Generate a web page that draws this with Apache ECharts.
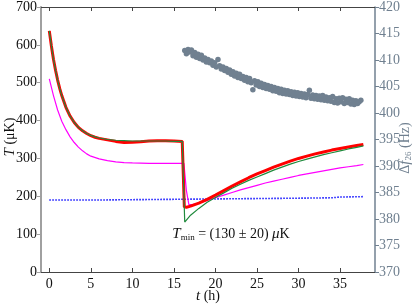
<!DOCTYPE html>
<html><head><meta charset="utf-8">
<script src="https://cdn.jsdelivr.net/npm/echarts@6/dist/echarts.min.js"></script>
<style>html,body{margin:0;padding:0;background:#fff}#c{width:415px;height:307px}</style>
</head><body><div id="c"></div>
<script>
// ---- data ----
const xTicks = [0, 5, 10, 15, 20, 25, 30, 35];
const tRed = [0,0.25,0.5,0.75,1,1.25,1.5,2,2.5,3,3.5,4,4.5,5,5.5,6,7,8,9,10,11,12,13,14,15,16,16.2,16.25,16.5,17,18,19,20,21,22,23,24,25,26,27,28,29,30,31,32,33,34,35,36,37,37.8];
const tempRed = [637,597,562,533,507,485,466,435,412,395,382,373,366,360,356,353,349,345,342,343,344,346,347,347,346,345,344,172,171,174,182,192,203,215,227,238,249,259,268,277,285,293,300,306,312,317,322,326,330,334,337];
const tGreen = [0,0.25,0.5,0.75,1,1.25,1.5,2,2.5,3,3.5,4,4.5,5,5.5,6,7,8,9,10,11,12,13,14,15,16,16.2,16.3,17,18,19,20,21,22,23,24,25,26,27,28,29,30,31,32,33,34,35,36,37,37.8];
const tempGreen = [637,597,562,533,507,485,466,435,412,395,382,373,366,361,357,354,350,348,347,346,346,346,346,346,345,345,345,132,150,168,184,197,209,221,232,242,251,260,269,277,285,292,298,304,310,315,320,325,329,333,336];
const tMagenta = [0,0.5,1,1.5,2,2.5,3,3.5,4,4.5,5,6,7,8,9,10,12,14,16.2,16.5,16.8,17.2,18,19,20,21,22,23,24,25,26,27,28,29,30,31,32,33,34,35,36,37,37.8];
const tempMagenta = [510,466,428,398,376,357,342,330,320,312,306,299,294,291,289,288,287,287,287,215,178,178,182,189,196,203,210,217,223,229,235,240,245,250,255,259,263,267,271,275,278,281,284];
const tBlue = [0,5,10,15,20,25,30,34,35,37.8];
const tempBlue = [190,190,191,192,193,194,195,196,198,199];
const tFreq = [16.3,16.5,16.7,16.9,17.1,17.3,17.5,17.7,17.9,18.1,18.3,18.5,18.7,18.9,19.1,19.3,19.5,19.7,19.9,20.1,20.3,20.5,20.7,20.9,21.1,21.3,21.5,21.7,21.9,22.1,22.3,22.5,22.7,22.9,23.1,23.3,23.5,23.7,23.9,24.1,24.3,24.5,24.7,24.9,25.1,25.3,25.5,25.7,25.9,26.1,26.3,26.5,26.7,26.9,27.1,27.3,27.5,27.7,27.9,28.1,28.3,28.5,28.7,28.9,29.1,29.3,29.5,29.7,29.9,30.1,30.3,30.5,30.7,30.9,31.1,31.3,31.5,31.7,31.9,32.1,32.3,32.5,32.7,32.9,33.1,33.3,33.5,33.7,33.9,34.1,34.3,34.5,34.7,34.9,35.1,35.3,35.5,35.7,35.9,36.1,36.3,36.5,36.7,36.9,37.1,37.3,37.5];
const freqGray = [411.8,411.2,412.0,411.5,411.9,410.8,411.4,410.5,411.1,410.3,410.9,410.0,410.4,409.6,410.1,409.5,409.8,409.0,409.5,408.7,410.1,408.9,408.3,408.7,408.0,408.4,407.7,408.1,407.3,407.8,407.0,407.5,406.7,407.3,406.5,406.9,406.2,406.7,405.9,406.5,405.7,404.4,406.1,405.3,405.9,405.0,405.6,404.8,405.4,404.6,405.2,404.5,405.0,404.2,404.8,404.1,404.6,403.8,404.5,403.7,404.3,403.6,404.2,403.5,404.0,403.3,403.9,403.2,403.8,403.1,403.7,403.0,403.6,402.9,403.5,404.3,402.8,403.4,402.7,403.3,402.6,403.2,402.5,403.3,402.4,403.0,402.3,402.9,402.2,403.1,402.0,402.7,401.9,402.8,402.1,402.9,401.8,402.6,402.0,402.7,401.7,402.4,401.6,402.3,401.8,402.1,402.4];

function zip(a, b) { return a.map((v, i) => [v, b[i]]); }

const FONT = '"Liberation Serif", "DejaVu Serif", serif';
const SLATE = '#708090';

const chart = echarts.init(document.getElementById('c'), null, {renderer: 'canvas'});
chart.setOption({
  animation: false,
  backgroundColor: '#fff',
  grid: {left: 41, right: 40, top: 5, bottom: 35, containLabel: false},
  xAxis: [
    {type: 'value', min: -1, max: 39.2, position: 'bottom',
     axisLine: {show: true, onZero: false, lineStyle: {color: '#444', width: 1}},
     axisTick: {show: true, inside: true, length: 4, customValues: xTicks, lineStyle: {color: '#444'}},
     axisLabel: {customValues: xTicks, fontFamily: FONT, fontSize: 14, color: '#111', margin: 5},
     splitLine: {show: false}},
    {type: 'value', min: -1, max: 39.2, position: 'top',
     axisLine: {show: true, onZero: false, lineStyle: {color: '#444', width: 1}},
     axisTick: {show: true, inside: true, length: 4, customValues: xTicks, lineStyle: {color: '#444'}},
     axisLabel: {show: false}, splitLine: {show: false}}
  ],
  yAxis: [
    {type: 'value', min: 0, max: 700, interval: 100, position: 'left',
     axisLine: {show: true, onZero: false, lineStyle: {color: '#a0a0a0', width: 2}},
     axisTick: {show: true, inside: false, length: 4, lineStyle: {color: '#a0a0a0', width: 1}},
     axisLabel: {fontFamily: FONT, fontSize: 14, color: '#111', margin: 4},
     splitLine: {show: false}},
    {type: 'value', min: 370, max: 420, interval: 5, position: 'right',
     axisLine: {show: true, onZero: false, lineStyle: {color: SLATE, width: 1.5}},
     axisTick: {show: true, inside: false, length: 4, lineStyle: {color: SLATE, width: 1}},
     axisLabel: {fontFamily: FONT, fontSize: 14, color: SLATE, margin: 4},
     splitLine: {show: false}}
  ],
  series: [
    {type: 'line', name: 'blue', xAxisIndex: 0, yAxisIndex: 0, data: zip(tBlue, tempBlue), showSymbol: false,
     lineStyle: {color: '#1010ff', width: 1.6, type: [1.5, 1.5]}, z: 2},
    {type: 'line', name: 'magenta', data: zip(tMagenta, tempMagenta), showSymbol: false,
     lineStyle: {color: '#ff00ff', width: 1.2}, z: 3},
    {type: 'line', name: 'red', data: zip(tRed, tempRed), showSymbol: false,
     lineStyle: {color: '#ff0000', width: 3}, z: 4},
    {type: 'line', name: 'green', data: zip(tGreen, tempGreen), showSymbol: false,
     lineStyle: {color: '#1f8a3c', width: 1.2}, z: 5},
    {type: 'scatter', name: 'freq', xAxisIndex: 0, yAxisIndex: 1, data: zip(tFreq, freqGray),
     symbolSize: 5.5, itemStyle: {color: SLATE, opacity: 1}, z: 6}
  ],
  graphic: [
    {type: 'text', x: 10, y: 137, rotation: Math.PI / 2,
     style: {text: '{i|T} (\u03BC{r|K})', align: 'center', verticalAlign: 'middle', fill: '#111',
       font: '14px ' + FONT,
       rich: {i: {fontStyle: 'italic', fontFamily: FONT, fontSize: 15}, r: {fontFamily: FONT, fontSize: 14}}}},
    {type: 'text', x: 405, y: 148, rotation: Math.PI / 2,
     style: {text: '\u0394{i|f}{s|26} (Hz)', align: 'center', verticalAlign: 'middle', fill: SLATE,
       font: '14px ' + FONT,
       rich: {i: {fontStyle: 'italic', fontFamily: FONT, fontSize: 15, fill: SLATE},
              s: {fontFamily: FONT, fontSize: 9, fill: SLATE, padding: [8, 0, 0, 0]}}}},
    {type: 'text', x: 208, y: 296,
     style: {text: '{i|t} (h)', align: 'center', verticalAlign: 'middle', fill: '#111',
       font: '14px ' + FONT,
       rich: {i: {fontStyle: 'italic', fontFamily: FONT, fontSize: 15}}}},
    {type: 'text', x: 231, y: 234,
     style: {text: '{i|T}{s|min} = (130 \u00B1 20) {i|\u03BC}K', align: 'center', verticalAlign: 'middle', fill: '#111',
       font: '14px ' + FONT,
       rich: {i: {fontStyle: 'italic', fontFamily: FONT, fontSize: 15}, s: {fontFamily: FONT, fontSize: 9, padding: [8, 0, 0, 0]}}}}
  ]
});
</script></body></html>
